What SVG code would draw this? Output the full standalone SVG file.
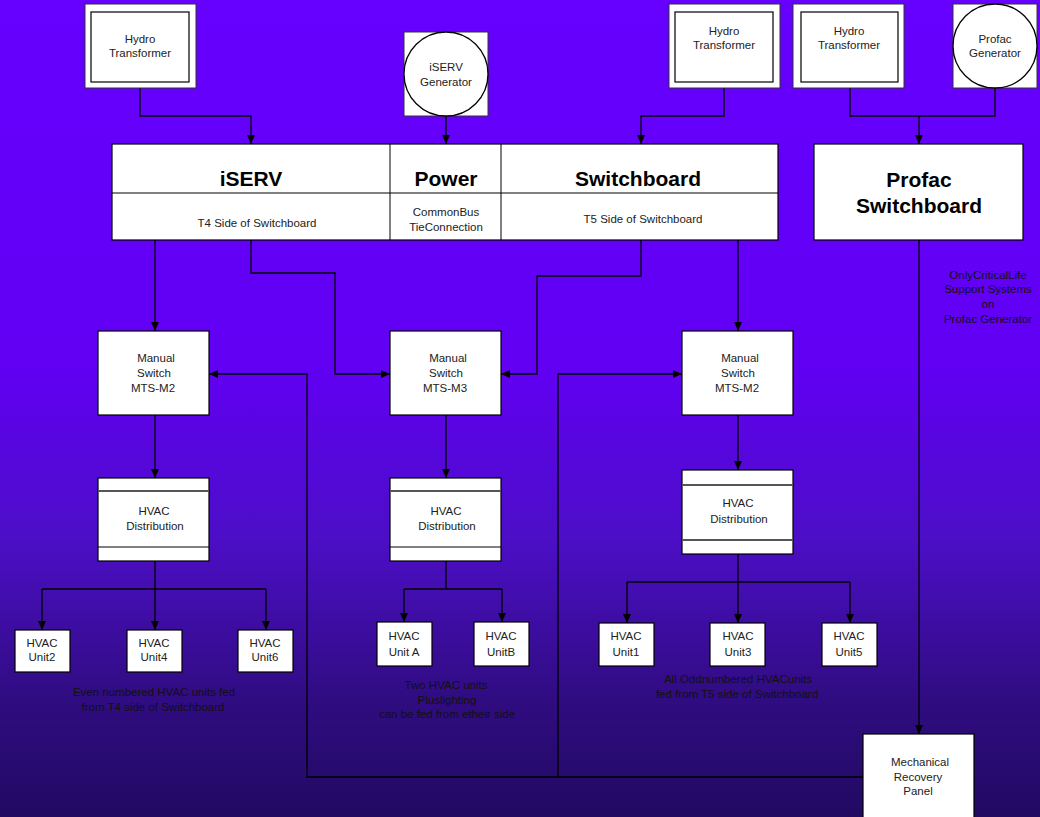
<svg xmlns="http://www.w3.org/2000/svg" width="1040" height="817" viewBox="0 0 1040 817">
<defs>
<linearGradient id="bg" x1="0" y1="0" x2="0" y2="1">
<stop offset="0" stop-color="#6600ff"/>
<stop offset="0.45" stop-color="#6100f3"/>
<stop offset="0.66" stop-color="#4c0ec6"/>
<stop offset="0.86" stop-color="#2f0c80"/>
<stop offset="1" stop-color="#220a62"/>
</linearGradient>
<marker id="arr" markerWidth="10" markerHeight="10" refX="9" refY="5" orient="auto" markerUnits="userSpaceOnUse">
<path d="M0,1 L9,5 L0,9 Z" fill="#000"/>
</marker>
<style>
.box{fill:#fff;stroke:#000;stroke-width:1.2}
.outer{fill:#fff;stroke:#333;stroke-width:1}
.div{stroke:#555;stroke-width:2}
.sep{stroke:#000;stroke-width:1}
.t{font-family:"Liberation Sans",Arial,sans-serif;font-size:11.5px;fill:#222;text-anchor:middle}
.lbl{font-family:"Liberation Sans",Arial,sans-serif;font-size:11.5px;fill:#111;text-anchor:middle}
.big{font-family:"Liberation Sans",Arial,sans-serif;font-size:21px;font-weight:bold;fill:#000;text-anchor:middle}
.c{fill:none;stroke:#000;stroke-width:1.3}
.ca{fill:none;stroke:#000;stroke-width:1.3;marker-end:url(#arr)}
</style>
</defs>
<rect x="0" y="0" width="1040" height="817" fill="url(#bg)"/>

<g id="connectors">
<polyline class="ca" points="140,88 140,116 251,116 251,144"/>
<polyline class="ca" points="446,116 446,144"/>
<polyline class="ca" points="724,88 724,116 641,116 641,144"/>
<polyline class="ca" points="850,88 850,116 919,116 919,144"/>
<polyline class="c" points="995,88 995,116 919,116"/>
<polyline class="ca" points="919,240 919,734"/>
<polyline class="ca" points="155,240 155,331"/>
<polyline class="ca" points="251,240 251,273 335,273 335,374 390,374"/>
<polyline class="ca" points="641,240 641,276 537,276 537,374 501,374"/>
<polyline class="ca" points="738,240 738,331"/>
<polyline class="ca" points="863,777 307,777 307,374 209,374"/>
<polyline class="ca" points="558,777 558,374 682,374"/>
<polyline class="ca" points="155,415 155,478"/>
<polyline class="ca" points="446,415 446,478"/>
<polyline class="ca" points="738,415 738,470"/>
<polyline class="c" points="155,561 155,589"/>
<polyline class="c" points="42,589 266,589"/>
<polyline class="ca" points="42,589 42,630"/>
<polyline class="ca" points="155,589 155,630"/>
<polyline class="ca" points="266,589 266,630"/>
<polyline class="c" points="446,561 446,589"/>
<polyline class="c" points="404,589 502,589"/>
<polyline class="ca" points="404,589 404,622"/>
<polyline class="ca" points="502,589 502,622"/>
<polyline class="c" points="738,554 738,582"/>
<polyline class="c" points="627,582 850,582"/>
<polyline class="ca" points="627,582 627,623"/>
<polyline class="ca" points="738,582 738,623"/>
<polyline class="ca" points="850,582 850,623"/>
</g>

<g id="hydro1">
<rect class="outer" x="85" y="4" width="111" height="84"/>
<rect class="box" x="91" y="12" width="98" height="70"/>
<text class="t" x="140" y="43">Hydro</text>
<text class="t" x="140" y="57">Transformer</text>
</g>
<g id="iserv-gen">
<rect class="outer" x="404" y="32" width="84" height="84"/>
<circle cx="446" cy="74" r="42" fill="#fff" stroke="#000" stroke-width="1.3"/>
<text class="t" x="446" y="71">iSERV</text>
<text class="t" x="446" y="86">Generator</text>
</g>
<g id="hydro2">
<rect class="outer" x="669" y="4" width="111" height="84"/>
<rect class="box" x="675" y="12" width="98" height="70"/>
<text class="t" x="724" y="35">Hydro</text>
<text class="t" x="724" y="49">Transformer</text>
</g>
<g id="hydro3">
<rect class="outer" x="793" y="4" width="111" height="84"/>
<rect class="box" x="801" y="12" width="97" height="70"/>
<text class="t" x="849" y="35">Hydro</text>
<text class="t" x="849" y="49">Transformer</text>
</g>
<g id="profac-gen">
<rect class="outer" x="953" y="4" width="84" height="84"/>
<circle cx="995" cy="46" r="42" fill="#fff" stroke="#000" stroke-width="1.3"/>
<text class="t" x="995" y="43">Profac</text>
<text class="t" x="995" y="57">Generator</text>
</g>

<g id="iserv-switchboard">
<rect class="box" x="112" y="144" width="666" height="96"/>
<line class="sep" x1="112" y1="193" x2="778" y2="193"/>
<line class="sep" x1="390" y1="144" x2="390" y2="240"/>
<line class="sep" x1="501" y1="144" x2="501" y2="240"/>
<text class="big" x="251" y="186">iSERV</text>
<text class="big" x="446" y="186">Power</text>
<text class="big" x="638" y="186">Switchboard</text>
<text class="t" x="257" y="227">T4 Side of Switchboard</text>
<text class="t" x="446" y="216">CommonBus</text>
<text class="t" x="446" y="231">TieConnection</text>
<text class="t" x="643" y="223">T5 Side of Switchboard</text>
</g>
<g id="profac-switchboard">
<rect class="box" x="814" y="144" width="209" height="96"/>
<text class="big" x="919" y="187">Profac</text>
<text class="big" x="919" y="213">Switchboard</text>
</g>
<g id="critical-note">
<text class="lbl" x="988" y="279">OnlyCriticalLife</text>
<text class="lbl" x="988" y="293">Support Systems</text>
<text class="lbl" x="988" y="308">on</text>
<text class="lbl" x="988" y="323">Profac Generator</text>
</g>

<g id="mts-left">
<rect class="box" x="98" y="331" width="111" height="84"/>
<text class="t" x="156" y="362">Manual</text>
<text class="t" x="154" y="377">Switch</text>
<text class="t" x="153" y="392">MTS-M2</text>
</g>
<g id="mts-mid">
<rect class="box" x="390" y="331" width="111" height="84"/>
<text class="t" x="448" y="362">Manual</text>
<text class="t" x="446" y="377">Switch</text>
<text class="t" x="445" y="392">MTS-M3</text>
</g>
<g id="mts-right">
<rect class="box" x="682" y="331" width="111" height="84"/>
<text class="t" x="740" y="362">Manual</text>
<text class="t" x="738" y="377">Switch</text>
<text class="t" x="737" y="392">MTS-M2</text>
</g>

<g id="dist-left">
<rect class="box" x="98" y="478" width="111" height="83"/>
<line class="div" x1="98" y1="491" x2="209" y2="491"/>
<line class="sep" x1="98" y1="547" x2="209" y2="547"/>
<text class="t" x="154" y="515">HVAC</text>
<text class="t" x="155" y="530">Distribution</text>
</g>
<g id="dist-mid">
<rect class="box" x="390" y="478" width="111" height="83"/>
<line class="div" x1="390" y1="491" x2="501" y2="491"/>
<line class="sep" x1="390" y1="547" x2="501" y2="547"/>
<text class="t" x="446" y="515">HVAC</text>
<text class="t" x="447" y="530">Distribution</text>
</g>
<g id="dist-right">
<rect class="box" x="682" y="470" width="111" height="84"/>
<line class="div" x1="682" y1="485" x2="793" y2="485"/>
<line class="div" x1="682" y1="540" x2="793" y2="540"/>
<text class="t" x="738" y="507">HVAC</text>
<text class="t" x="739" y="523">Distribution</text>
</g>

<g id="unit2">
<rect class="box" x="15" y="630" width="55" height="42"/>
<text class="t" x="42" y="647">HVAC</text>
<text class="t" x="42" y="661">Unit2</text>
</g>
<g id="unit4">
<rect class="box" x="127" y="630" width="55" height="42"/>
<text class="t" x="154" y="647">HVAC</text>
<text class="t" x="154" y="661">Unit4</text>
</g>
<g id="unit6">
<rect class="box" x="238" y="630" width="55" height="42"/>
<text class="t" x="265" y="647">HVAC</text>
<text class="t" x="265" y="661">Unit6</text>
</g>
<g id="even-note">
<text class="lbl" x="154" y="696">Even numbered HVAC units fed</text>
<text class="lbl" x="153" y="711">from T4 side of Switchboard</text>
</g>

<g id="unitA">
<rect class="box" x="377" y="622" width="55" height="44"/>
<text class="t" x="404" y="640">HVAC</text>
<text class="t" x="404" y="656">Unit A</text>
</g>
<g id="unitB">
<rect class="box" x="474" y="622" width="55" height="44"/>
<text class="t" x="501" y="640">HVAC</text>
<text class="t" x="501" y="656">UnitB</text>
</g>
<g id="two-note">
<text class="lbl" x="446" y="689">Two HVAC units</text>
<text class="lbl" x="447" y="704">Pluslighting</text>
<text class="lbl" x="447" y="718">can be fed from etheir side</text>
</g>

<g id="unit1">
<rect class="box" x="599" y="623" width="55" height="43"/>
<text class="t" x="626" y="640">HVAC</text>
<text class="t" x="626" y="656">Unit1</text>
</g>
<g id="unit3">
<rect class="box" x="710" y="623" width="55" height="43"/>
<text class="t" x="738" y="640">HVAC</text>
<text class="t" x="738" y="656">Unit3</text>
</g>
<g id="unit5">
<rect class="box" x="822" y="623" width="55" height="43"/>
<text class="t" x="849" y="640">HVAC</text>
<text class="t" x="849" y="656">Unit5</text>
</g>
<g id="odd-note">
<text class="lbl" x="738" y="683">All Oddnumbered HVACunits</text>
<text class="lbl" x="737" y="698">fed from T5 side of Switchboard</text>
</g>

<g id="mech-panel">
<rect class="box" x="863" y="734" width="111" height="90"/>
<text class="t" x="920" y="766">Mechanical</text>
<text class="t" x="918" y="781">Recovery</text>
<text class="t" x="918" y="795">Panel</text>
</g>
</svg>
